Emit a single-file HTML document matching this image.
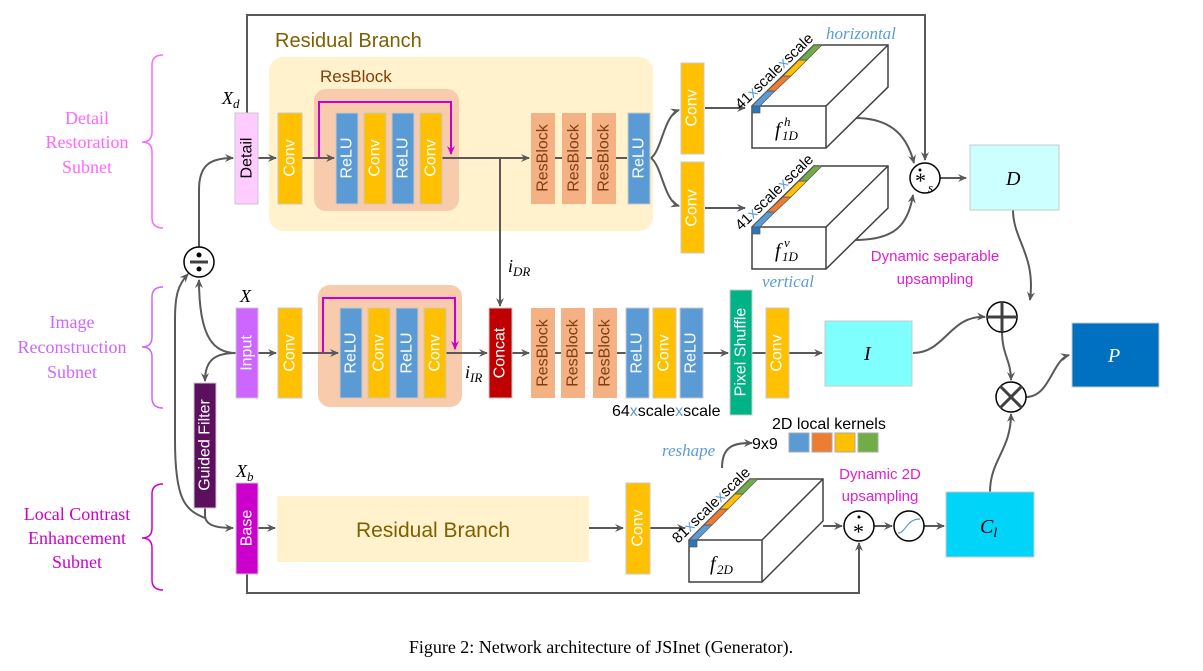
<!DOCTYPE html>
<html><head><meta charset="utf-8"><style>
html,body{margin:0;padding:0;background:#fff;}
svg{display:block;}
.b{font-family:"Liberation Sans","DejaVu Sans",sans-serif;}
.s{font-family:"Liberation Serif",serif;}
</style></head><body>
<svg width="1203" height="671" viewBox="0 0 1203 671" xmlns="http://www.w3.org/2000/svg">
<defs>
<marker id="a" markerWidth="10" markerHeight="10" refX="8" refY="5" orient="auto" markerUnits="userSpaceOnUse"><path d="M0,1 L9,5 L0,9 L3,5z" fill="#595959"/></marker>
<marker id="m" markerWidth="10" markerHeight="10" refX="8" refY="5" orient="auto" markerUnits="userSpaceOnUse"><path d="M0,1 L9,5 L0,9 L3,5z" fill="#cc00cc"/></marker>
</defs>
<g fill="none" stroke="#ff66ff" stroke-width="1.5">
<path d="M163,55 Q152,55 152,65 L152,132 Q152,142 142,142 Q152,142 152,152 L152,218 Q152,228 163,228"/>
</g>
<path d="M163,287 Q152,287 152,297 L152,337 Q152,347 142,347 Q152,347 152,357 L152,398 Q152,408 163,408" fill="none" stroke="#cc66ff" stroke-width="1.5"/>
<path d="M163,484 Q152,484 152,494 L152,528 Q152,538 142,538 Q152,538 152,548 L152,580 Q152,590 163,590" fill="none" stroke="#cc00cc" stroke-width="1.5"/>
<g class="s" style="font-size:18px" text-anchor="middle">
<text x="87" y="124" fill="#ff66ff">Detail</text><text x="87" y="148" fill="#ff66ff">Restoration</text><text x="87" y="173" fill="#ff66ff">Subnet</text>
<text x="72" y="328" fill="#cc66ff">Image</text><text x="72" y="353" fill="#cc66ff">Reconstruction</text><text x="72" y="378" fill="#cc66ff">Subnet</text>
<text x="77" y="520" fill="#cc00cc">Local Contrast</text><text x="77" y="544" fill="#cc00cc">Enhancement</text><text x="77" y="568" fill="#cc00cc">Subnet</text>
</g>

<rect x="269" y="57" width="384" height="174" rx="14" fill="#fff2cc"/>
<text x="275" y="47" class="b" style="font-size:20px" fill="#7f6000">Residual Branch</text>
<rect x="314" y="89" width="145" height="122" rx="12" fill="#f8cbad"/>
<text x="320" y="82" class="b" style="font-size:17px" fill="#843c0c">ResBlock</text>
<rect x="318" y="285" width="144" height="122" rx="12" fill="#f8cbad"/>
<rect x="277" y="496" width="312" height="66" fill="#fff2cc"/>
<text x="433" y="537" class="b" style="font-size:21px" fill="#7f6000" text-anchor="middle">Residual Branch</text>

<g stroke="#595959" stroke-width="2" fill="none">
<path d="M247,113 L247,15 L925,15 L925,160" marker-end="url(#a)"/>
<path d="M258,158 L276,158" marker-end="url(#a)"/>
<path d="M302,158 L334,158" marker-end="url(#a)"/>
<path d="M442,158 L529,158" marker-end="url(#a)"/>
<path d="M555,158 L627,158"/>
<path d="M500,158 L500,306" marker-end="url(#a)"/>
<path d="M651,158 C662,150 664,115 679,110" marker-end="url(#a)"/>
<path d="M651,158 C662,166 664,201 679,206" marker-end="url(#a)"/>
<path d="M705,108 L745,108" marker-end="url(#a)"/>
<path d="M705,208 L745,208" marker-end="url(#a)"/>
<path d="M855,118 C895,118 908,140 914,163" marker-end="url(#a)"/>
<path d="M855,240 C895,240 908,225 913,195" marker-end="url(#a)"/>
<path d="M940,178 L966,178" marker-end="url(#a)"/>
<path d="M1013,210 C1013,240 1036,255 1030,300" marker-end="url(#a)"/>
<path d="M258,353 L276,353" marker-end="url(#a)"/>
<path d="M302,353 L338,353" marker-end="url(#a)"/>
<path d="M446,353 L487,353" marker-end="url(#a)"/>
<path d="M512,353 L529,353" marker-end="url(#a)"/>
<path d="M555,353 L626,353"/>
<path d="M703,353 L728,353" marker-end="url(#a)"/>
<path d="M752,353 L766,353"/>
<path d="M789,353 L822,353" marker-end="url(#a)"/>
<path d="M913,353 C945,353 950,315 985,317" marker-end="url(#a)"/>
<path d="M1002,331 C1002,355 1011,360 1011,380" marker-end="url(#a)"/>
<path d="M1026,397 C1050,397 1052,360 1069,355" marker-end="url(#a)"/>
<path d="M990,492 C990,460 1011,450 1011,414" marker-end="url(#a)"/>
<path d="M236,353 C215,353 199,340 199,280" marker-end="url(#a)"/>
<path d="M236,353 C215,353 205,360 205,381" marker-end="url(#a)"/>
<path d="M199,247 L199,190 C199,165 210,158 233,158" marker-end="url(#a)"/>
<path d="M205,508 L205,515 C205,525 215,528 233,528" marker-end="url(#a)"/>
<path d="M205,518 C185,510 175,500 175,440 L175,320 C175,295 178,285 188,274" marker-end="url(#a)"/>
<path d="M258,528 L275,528" marker-end="url(#a)"/>
<path d="M589,528 L623,528" marker-end="url(#a)"/>
<path d="M650,528 L685,528" marker-end="url(#a)"/>
<path d="M247,574 L247,593 L859,593 L859,543" marker-end="url(#a)"/>
<path d="M823,526 L842,526" marker-end="url(#a)"/>
<path d="M874,526 L892,526" marker-end="url(#a)"/>
<path d="M924,526 L944,526" marker-end="url(#a)"/>
<path d="M722,468 C722,445 735,443 752,443" marker-end="url(#a)"/>
</g>
<g stroke="#cc00cc" stroke-width="2" fill="none">
<path d="M319,158 L319,102 L451,102 L451,154" marker-end="url(#m)"/>
<path d="M323,353 L323,298 L455,298 L455,349" marker-end="url(#m)"/>
</g>

<g stroke="#c8c8c8" stroke-width="1">
<rect x="235" y="113" width="23" height="91" fill="#ffccff"/>
<rect x="278" y="113" width="24" height="91" fill="#ffc000"/>
<rect x="336" y="113" width="22" height="91" fill="#5b9bd5"/>
<rect x="364" y="113" width="22" height="91" fill="#ffc000"/>
<rect x="392" y="113" width="22" height="91" fill="#5b9bd5"/>
<rect x="420" y="113" width="22" height="91" fill="#ffc000"/>
<rect x="531" y="113" width="24" height="91" fill="#f4b183" stroke="none"/>
<rect x="562" y="113" width="24" height="91" fill="#f4b183" stroke="none"/>
<rect x="592" y="113" width="24" height="91" fill="#f4b183" stroke="none"/>
<rect x="628" y="113" width="22" height="91" fill="#5b9bd5"/>
<rect x="681" y="63" width="23" height="91" fill="#ffc000"/>
<rect x="681" y="162" width="23" height="91" fill="#ffc000"/>
<rect x="236" y="308" width="22" height="90" fill="#cc66ff"/>
<rect x="278" y="308" width="24" height="90" fill="#ffc000"/>
<rect x="340" y="308" width="22" height="90" fill="#5b9bd5"/>
<rect x="368" y="308" width="22" height="90" fill="#ffc000"/>
<rect x="396" y="308" width="22" height="90" fill="#5b9bd5"/>
<rect x="424" y="308" width="22" height="90" fill="#ffc000"/>
<rect x="489" y="308" width="23" height="90" fill="#c00000"/>
<rect x="531" y="308" width="24" height="90" fill="#f4b183" stroke="none"/>
<rect x="561" y="308" width="24" height="90" fill="#f4b183" stroke="none"/>
<rect x="593" y="308" width="24" height="90" fill="#f4b183" stroke="none"/>
<rect x="626" y="308" width="23" height="90" fill="#5b9bd5"/>
<rect x="653" y="308" width="23" height="90" fill="#ffc000"/>
<rect x="680" y="308" width="23" height="90" fill="#5b9bd5"/>
<rect x="730" y="290" width="22" height="125" fill="#00b386"/>
<rect x="766" y="308" width="23" height="90" fill="#ffc000"/>
<rect x="194" y="383" width="22" height="125" fill="#5c0f5c"/>
<rect x="236" y="483" width="22" height="91" fill="#cc00cc"/>
<rect x="626" y="483" width="24" height="91" fill="#ffc000"/>
</g>
<g class="b" style="font-size:16px" fill="#fff" text-anchor="middle" dominant-baseline="central">
<text transform="translate(247,158) rotate(-90)" fill="#000">Detail</text>
<text transform="translate(290,158) rotate(-90)">Conv</text>
<text transform="translate(347,158) rotate(-90)">ReLU</text>
<text transform="translate(375,158) rotate(-90)">Conv</text>
<text transform="translate(403,158) rotate(-90)">ReLU</text>
<text transform="translate(431,158) rotate(-90)">Conv</text>
<text transform="translate(543,158) rotate(-90)" fill="#843c0c">ResBlock</text>
<text transform="translate(574,158) rotate(-90)" fill="#843c0c">ResBlock</text>
<text transform="translate(604,158) rotate(-90)" fill="#843c0c">ResBlock</text>
<text transform="translate(639,158) rotate(-90)">ReLU</text>
<text transform="translate(692,108) rotate(-90)">Conv</text>
<text transform="translate(692,208) rotate(-90)">Conv</text>
<text transform="translate(247,353) rotate(-90)">Input</text>
<text transform="translate(290,353) rotate(-90)">Conv</text>
<text transform="translate(351,353) rotate(-90)">ReLU</text>
<text transform="translate(379,353) rotate(-90)">Conv</text>
<text transform="translate(407,353) rotate(-90)">ReLU</text>
<text transform="translate(435,353) rotate(-90)">Conv</text>
<text transform="translate(500,353) rotate(-90)">Concat</text>
<text transform="translate(543,353) rotate(-90)" fill="#843c0c">ResBlock</text>
<text transform="translate(573,353) rotate(-90)" fill="#843c0c">ResBlock</text>
<text transform="translate(605,353) rotate(-90)" fill="#843c0c">ResBlock</text>
<text transform="translate(637,353) rotate(-90)">ReLU</text>
<text transform="translate(664,353) rotate(-90)">Conv</text>
<text transform="translate(691,353) rotate(-90)">ReLU</text>
<text transform="translate(741,352) rotate(-90)">Pixel Shuffle</text>
<text transform="translate(777,353) rotate(-90)">Conv</text>
<text transform="translate(205,445) rotate(-90)">Guided Filter</text>
<text transform="translate(247,528) rotate(-90)">Base</text>
<text transform="translate(638,528) rotate(-90)">Conv</text>
</g>

<g class="s" font-style="italic" style="font-size:18px">
<text x="222" y="104">X<tspan style="font-size:13px" dy="4">d</tspan></text>
<text x="240" y="302">X</text>
<text x="236" y="477">X<tspan style="font-size:13px" dy="4">b</tspan></text>
<text x="508" y="272">i<tspan style="font-size:13px" dy="4">DR</tspan></text>
<text x="465" y="378">i<tspan style="font-size:13px" dy="4">IR</tspan></text>
<text x="826" y="39" fill="#5b9bd5" style="font-size:17px">horizontal</text>
<text x="762" y="287" fill="#5b9bd5" style="font-size:17px">vertical</text>
<text x="662" y="456" fill="#5b9bd5" style="font-size:17px">reshape</text>
</g>

<g stroke="#404040" stroke-width="1.5" fill="#fff">
<path d="M752,106 L814,45 L888,45 L888,87 L826,148 L752,148z"/>
<path d="M752,106 L826,106 L888,45 M826,106 L826,148" fill="none"/>
<path d="M752,227 L814,166 L888,166 L888,208 L826,269 L752,269z"/>
<path d="M752,227 L826,227 L888,166 M826,227 L826,269" fill="none"/>
<path d="M689,540 L750,479 L823,479 L823,521 L762,582 L689,582z"/>
<path d="M689,540 L762,540 L823,479 M762,540 L762,582" fill="none"/>
</g>
<g stroke="#555" stroke-width="0.7">
<path d="M752,106 L767,91 L775,91 L760,106z" fill="#5b9bd5"/><path d="M767,91 L783,76 L791,76 L775,91z" fill="#ed7d31"/><path d="M783,76 L799,60 L807,60 L791,76z" fill="#ffc000"/><path d="M799,60 L814,45 L822,45 L807,60z" fill="#70ad47"/>
<rect x="752" y="106" width="8" height="7" fill="#2e75b6"/>
<path d="M752,227 L767,212 L775,212 L760,227z" fill="#5b9bd5"/><path d="M767,212 L783,197 L791,197 L775,212z" fill="#ed7d31"/><path d="M783,197 L799,181 L807,181 L791,197z" fill="#ffc000"/><path d="M799,181 L814,166 L822,166 L807,181z" fill="#70ad47"/>
<rect x="752" y="227" width="8" height="7" fill="#2e75b6"/>
<path d="M689,540 L704,525 L712,525 L697,540z" fill="#5b9bd5"/><path d="M704,525 L720,509 L728,509 L712,525z" fill="#ed7d31"/><path d="M720,509 L735,494 L743,494 L728,509z" fill="#ffc000"/><path d="M735,494 L750,479 L758,479 L743,494z" fill="#70ad47"/>
<rect x="689" y="540" width="8" height="7" fill="#2e75b6"/>
</g>
<g class="b" style="font-size:15px">
<text transform="translate(741,110) rotate(-44)">41<tspan fill="#5b9bd5">x</tspan>scale<tspan fill="#5b9bd5">x</tspan>scale</text>
<text transform="translate(741,231) rotate(-44)">41<tspan fill="#5b9bd5">x</tspan>scale<tspan fill="#5b9bd5">x</tspan>scale</text>
<text transform="translate(678,544) rotate(-44)">81<tspan fill="#5b9bd5">x</tspan>scale<tspan fill="#5b9bd5">x</tspan>scale</text>
<text x="612" y="416" style="font-size:16px">64<tspan fill="#5b9bd5">x</tspan>scale<tspan fill="#5b9bd5">x</tspan>scale</text>
<text x="772" y="429" style="font-size:16px">2D local kernels</text>
<text x="752" y="449" style="font-size:16px">9x9</text>
</g>
<g class="s" font-style="italic">
<text x="775" y="136" style="font-size:20px">f</text><text x="782" y="140" style="font-size:13px">1D</text><text x="784" y="126" style="font-size:13px">h</text>
<text x="775" y="257" style="font-size:20px">f</text><text x="782" y="261" style="font-size:13px">1D</text><text x="784" y="247" style="font-size:13px">v</text>
<text x="710" y="570" style="font-size:20px">f</text><text x="717" y="574" style="font-size:13px">2D</text>
</g>
<g stroke="#aaa" stroke-width="1">
<rect x="789" y="433" width="20" height="19" fill="#5b9bd5"/>
<rect x="812" y="433" width="20" height="19" fill="#ed7d31"/>
<rect x="835" y="433" width="20" height="19" fill="#ffc000"/>
<rect x="858" y="433" width="20" height="19" fill="#70ad47"/>
</g>
<g stroke="#c8c8c8" stroke-width="1">
<rect x="970" y="145" width="89" height="65" fill="#ccffff"/>
<rect x="825" y="321" width="87" height="65" fill="#80ffff"/>
<rect x="1072" y="323" width="87" height="64" fill="#0070c0"/>
<rect x="946" y="492" width="88" height="65" fill="#00d4f8"/>
</g>
<g class="s" font-style="italic" style="font-size:20px">
<text x="1006" y="185">D</text>
<text x="864" y="360">I</text>
<text x="1108" y="362" fill="#fff">P</text>
<text x="980" y="533">C<tspan style="font-size:14px" dy="4">l</tspan></text>
</g>
<g class="b" style="font-size:15px" fill="#e020d0" text-anchor="middle">
<text x="935" y="261">Dynamic separable</text><text x="935" y="284">upsampling</text>
<text x="880" y="479">Dynamic 2D</text><text x="880" y="501">upsampling</text>
</g>
<g stroke="#000" stroke-width="1.5" fill="#fff">
<circle cx="925" cy="178" r="15"/>
<circle cx="199" cy="262" r="15"/>
<circle cx="1002" cy="317" r="15"/>
<circle cx="1011" cy="397" r="15"/>
<circle cx="859" cy="526" r="15"/>
<circle cx="909" cy="526" r="15"/>
</g>
<g stroke="#404040" stroke-width="3">
<path d="M987,317 L1017,317 M1002,302 L1002,332"/>
<path d="M1000,386 L1022,408 M1022,386 L1000,408"/>
<path d="M190,262 L208,262"/>
</g>
<circle cx="199" cy="255" r="2.5"/><circle cx="199" cy="269" r="2.5"/>
<path d="M898,533 C906,533 906,519 920,519" stroke="#5b9bd5" stroke-width="1.2" fill="none"/>
<text x="915" y="188" class="s" style="font-size:22px">*</text><circle cx="920" cy="170" r="1.5"/>
<text x="928" y="192" class="s" font-style="italic" style="font-size:13px">s</text>
<text x="853" y="539" class="s" style="font-size:22px">*</text><circle cx="859" cy="517" r="1.5"/>

<text x="601" y="653" class="s" style="font-size:18px" text-anchor="middle">Figure 2: Network architecture of JSInet (Generator).</text>
</svg>
</body></html>
